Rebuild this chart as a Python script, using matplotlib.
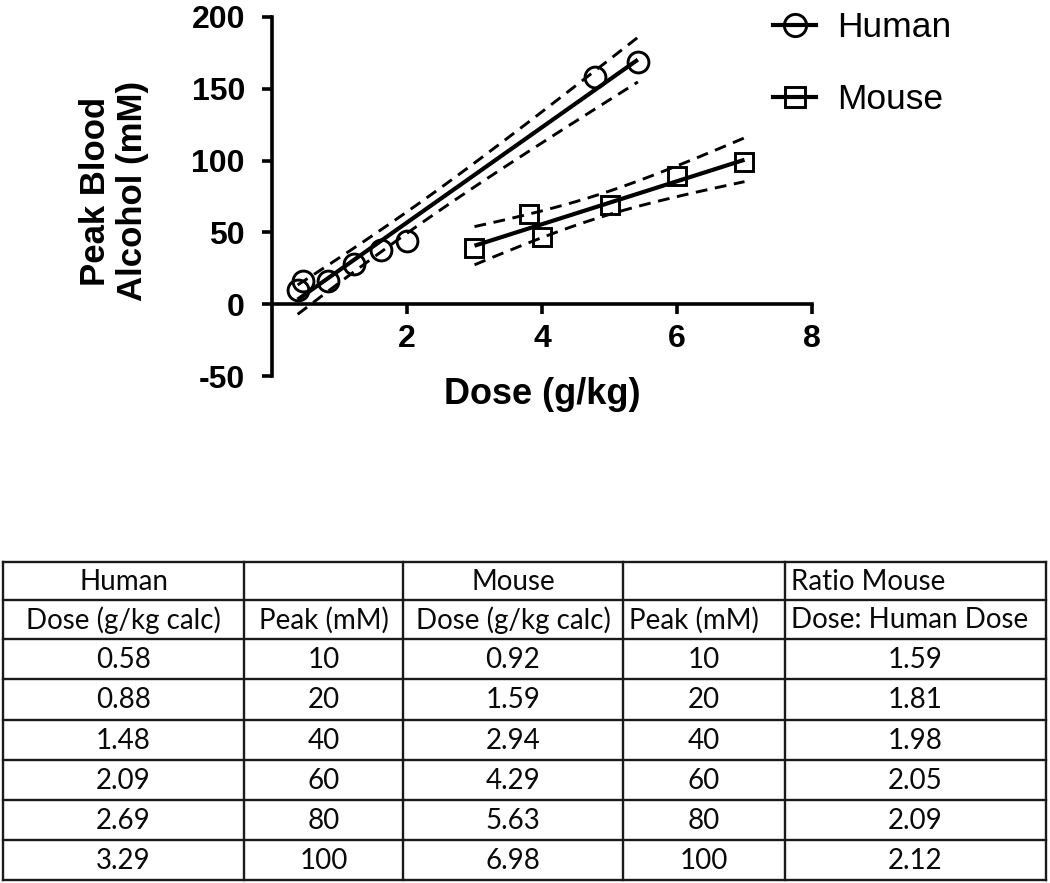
import numpy as np
import matplotlib
matplotlib.use("Agg")
import matplotlib.pyplot as plt
from matplotlib.lines import Line2D

# ---------------- data ----------------
human_dose = [0.38, 0.46, 0.83, 1.22, 1.62, 2.00, 4.79, 5.42]
human_peak = [10, 16, 16, 28, 38, 44, 158, 169]
mouse_dose = [3.0, 3.8, 4.0, 5.0, 6.0, 7.0]
mouse_peak = [39, 63, 47, 69, 89, 99]

# two-sided 95% t critical values (df = n - 2)
T_CRIT = {6: 2.4469, 4: 2.7764}

x_ticks = [2, 4, 6, 8]
y_ticks = [-50, 0, 50, 100, 150, 200]

table_header1 = ["Human", "", "Mouse", "", "Ratio Mouse"]
table_header2 = ["Dose (g/kg calc)", "Peak (mM)", "Dose (g/kg calc)", "Peak (mM)", "Dose: Human Dose"]
tbl_human_dose = ["0.58", "0.88", "1.48", "2.09", "2.69", "3.29"]
tbl_human_peak = ["10", "20", "40", "60", "80", "100"]
tbl_mouse_dose = ["0.92", "1.59", "2.94", "4.29", "5.63", "6.98"]
tbl_mouse_peak = ["10", "20", "40", "60", "80", "100"]
tbl_ratio = ["1.59", "1.81", "1.98", "2.05", "2.09", "2.12"]

# ---------------- figure ----------------
W, H = 1050, 883
plt.rcParams['lines.scale_dashes'] = False
plt.rcParams['axes.unicode_minus'] = False
fig = plt.figure(figsize=(W / 100, H / 100), dpi=100)

def px_axes(x0, y0, x1, y1):
    return fig.add_axes([x0 / W, 1 - y1 / H, (x1 - x0) / W, (y1 - y0) / H])

ax = px_axes(272, 17, 812, 376)
ax.set_xlim(0, 8)
ax.set_ylim(-50, 200)

def fit_ci(x, y):
    x = np.asarray(x, float); y = np.asarray(y, float)
    n = len(x)
    b, a = np.polyfit(x, y, 1)
    res = y - (a + b * x)
    s = np.sqrt(np.sum(res ** 2) / (n - 2))
    xm = x.mean(); sxx = np.sum((x - xm) ** 2)
    xs = np.linspace(x.min(), x.max(), 200)
    yf = a + b * xs
    se = s * np.sqrt(1 / n + (xs - xm) ** 2 / sxx)
    t = T_CRIT[n - 2]
    return xs, yf, yf - t * se, yf + t * se

lw_main = 3.0
lw_dash = 2.1
dash = (8.5, 5.5)
for xd, yd, mk, ms in [(human_dose, human_peak, 'o', 15), (mouse_dose, mouse_peak, 's', 13)]:
    xs, yf, lo, hi = fit_ci(xd, yd)
    ax.plot(xs, yf, color='black', lw=lw_main, solid_capstyle='butt', zorder=3)
    ax.plot(xs, lo, color='black', lw=lw_dash, dashes=dash, zorder=3)
    ax.plot(xs, hi, color='black', lw=lw_dash, dashes=dash, zorder=3)
    ax.plot(xd, yd, linestyle='none', marker=mk, ms=ms, mfc='none', mec='black', mew=2.1, zorder=4)

for s in ['top', 'right']:
    ax.spines[s].set_visible(False)
ax.spines['bottom'].set_position(('data', 0))
for s in ['left', 'bottom']:
    ax.spines[s].set_linewidth(2.6)
    ax.spines[s].set_capstyle('projecting')
ax.set_xticks(x_ticks)
ax.set_yticks(y_ticks)
ax.tick_params(axis='both', direction='out', length=7.5, width=2.6, labelsize=23)
ax.tick_params(axis='y', pad=12)
ax.tick_params(axis='x', pad=7)
for lab in ax.get_xticklabels() + ax.get_yticklabels():
    lab.set_fontfamily('Liberation Sans')
    lab.set_fontweight('bold')

fig.text(114 / W, 1 - 191 / H, "Peak Blood\nAlcohol (mM)", rotation=90, ha='center', va='center',
         ma='center', fontsize=25, fontweight='bold', family='Liberation Sans', linespacing=1.15)
fig.text(542 / W, 1 - 395 / H, "Dose (g/kg)", ha='center', va='center',
         fontsize=26, fontweight='bold', family='Liberation Sans')

handles = [Line2D([], [], color='black', lw=lw_main, marker='o', ms=16, mfc='none', mew=2.1),
           Line2D([], [], color='black', lw=lw_main, marker='s', ms=15, mfc='none', mew=2.1)]
leg = fig.legend(handles, ["Human", "Mouse"], loc='upper left', bbox_to_anchor=(745 / W, 1 + 17 / H),
                 frameon=False, prop={'family': 'Liberation Sans', 'size': 25.5},
                 handlelength=1.2, handletextpad=0.6, labelspacing=1.1, borderpad=0.3)

# ---------------- table ----------------
col_edges = [3, 244, 403, 623, 785, 1046]
row_edges = [562, 600, 639, 679, 720, 760, 800, 840, 880]
tax = px_axes(0, 550, W, H)
tax.set_xlim(0, W)
tax.set_ylim(H, 550)
tax.axis('off')
for xe in col_edges:
    tax.plot([xe, xe], [row_edges[0], row_edges[-1]], color='#1a1a1a', lw=1.7, solid_capstyle='projecting')
for ye in row_edges:
    tax.plot([col_edges[0], col_edges[-1]], [ye, ye], color='#1a1a1a', lw=1.7, solid_capstyle='projecting')

tfont = dict(family='Lato', fontsize=20, color='#0a0a0a')
left_cols = {(0, 4), (1, 4), (1, 3)}
rows = [table_header1, table_header2] + [list(r) for r in zip(tbl_human_dose, tbl_human_peak,
                                                            tbl_mouse_dose, tbl_mouse_peak, tbl_ratio)]
for ri, row in enumerate(rows):
    yc = (row_edges[ri] + row_edges[ri + 1]) / 2 + 1
    for ci, txt in enumerate(row):
        if not txt:
            continue
        if (ri, ci) in left_cols:
            tax.text(col_edges[ci] + 6, yc, txt, ha='left', va='center', **tfont)
        else:
            tax.text((col_edges[ci] + col_edges[ci + 1]) / 2, yc, txt, ha='center', va='center', **tfont)

fig.savefig("out.png", dpi=100)
